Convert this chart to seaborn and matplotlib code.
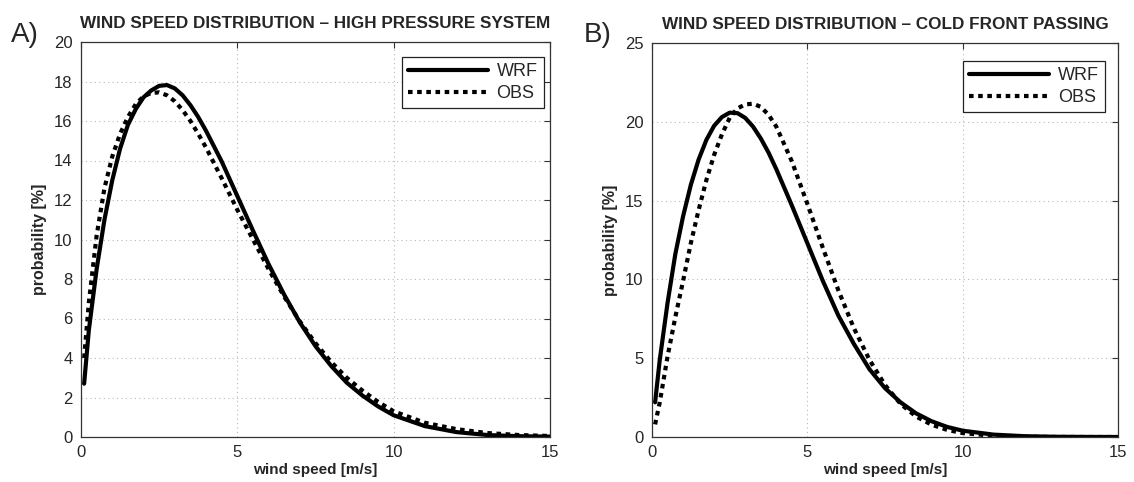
import matplotlib
matplotlib.use("Agg")
import matplotlib.pyplot as plt
from matplotlib.lines import Line2D
import pandas as pd
import seaborn as sns

# Wind speed grid [m/s]
speed = [0.1, 0.25, 0.5, 0.75, 1.0, 1.25, 1.5, 1.75, 2.0, 2.25, 2.5, 2.75,
         3.0, 3.25, 3.5, 3.75, 4.0, 4.5, 5.0, 5.5, 6.0, 6.5, 7.0, 7.5,
         8.0, 8.5, 9.0, 9.5, 10, 11, 12, 13, 14, 15]

# A) high pressure system: probability [%]
wrf_high = [2.7, 5.4, 8.5, 11.0, 13.0, 14.6, 15.8, 16.6, 17.2, 17.55, 17.78, 17.82,
            17.65, 17.3, 16.8, 16.2, 15.5, 13.95, 12.2, 10.45, 8.75, 7.2, 5.8, 4.6,
            3.6, 2.75, 2.1, 1.55, 1.1, 0.55, 0.25, 0.1, 0.04, 0.02]
obs_high = [4.0, 6.8, 10.2, 12.6, 14.2, 15.35, 16.2, 16.85, 17.25, 17.42, 17.45, 17.3,
            17.0, 16.55, 16.0, 15.35, 14.65, 13.1, 11.5, 10.0, 8.5, 7.1, 5.85, 4.75,
            3.8, 3.0, 2.35, 1.78, 1.3, 0.72, 0.4, 0.2, 0.1, 0.05]

# B) cold front passing: probability [%]
wrf_front = [2.2, 4.9, 8.5, 11.6, 14.0, 16.0, 17.6, 18.85, 19.75, 20.3, 20.58, 20.55,
             20.25, 19.7, 18.95, 18.05, 17.0, 14.7, 12.3, 9.9, 7.7, 5.9, 4.3, 3.1,
             2.2, 1.5, 1.0, 0.64, 0.4, 0.15, 0.05, 0.015, 0.005, 0.001]
obs_front = [0.8, 2.2, 5.1, 7.6, 9.9, 12.3, 14.4, 16.3, 17.9, 19.2, 20.25, 20.85,
             21.1, 21.15, 20.95, 20.45, 19.7, 17.5, 14.8, 12.0, 9.3, 6.9, 4.9, 3.3,
             2.1, 1.3, 0.78, 0.45, 0.25, 0.07, 0.015, 0.003, 0.0, 0.0]

series_names = ["WRF", "OBS"]
x_ticks = [0, 5, 10, 15]

sns.set_style("white")
plt.rcParams["font.family"] = ["Liberation Sans", "DejaVu Sans"]

W, H = 1134, 482
fig = plt.figure(figsize=(W / 100, H / 100), dpi=100)
ax_a = fig.add_axes([81 / W, 45 / H, 469 / W, 395 / H])
ax_b = fig.add_axes([652 / W, 45 / H, 466 / W, 394 / H])

LW = 3.0
OBS_DASH = (1.1, 1.1)


def draw_panel(ax, wrf, obs, ymax, ystep, title, tag, tag_x, anchor):
    n = len(speed)
    df = pd.DataFrame({
        "speed": speed * 2,
        "prob": wrf + obs,
        "series": ["WRF"] * n + ["OBS"] * n,
    })
    sns.lineplot(data=df, x="speed", y="prob", style="series",
                 style_order=series_names,
                 dashes={"WRF": "", "OBS": OBS_DASH},
                 color="black", linewidth=LW, estimator=None, sort=False,
                 legend=False, ax=ax)

    ax.set_xlim(0, 15)
    ax.set_ylim(0, ymax)
    ax.set_xticks(x_ticks)
    ax.set_yticks(list(range(0, ymax + 1, ystep)))
    ax.set_axisbelow(True)
    ax.grid(True, linestyle=(0, (1, 3)), color="#b8b8b8", linewidth=0.8)
    for sp in ax.spines.values():
        sp.set_visible(True)
        sp.set_color("#333333")
        sp.set_linewidth(0.9)
    ax.tick_params(direction="in", length=4, width=0.8, top=True, right=True,
                   labelsize=12, color="#333333", pad=6)

    ax.set_xlabel("wind speed [m/s]", fontsize=11, fontweight="bold", labelpad=2)
    ax.set_ylabel("probability [%]", fontsize=11.5, fontweight="bold", labelpad=5)
    ax.set_title(title, fontsize=12.3, fontweight="bold", pad=10)

    handles = [Line2D([], [], color="black", lw=LW),
               Line2D([], [], color="black", lw=LW, dashes=OBS_DASH)]
    leg = ax.legend(handles, series_names, loc="upper right", bbox_to_anchor=anchor,
                    frameon=True, fancybox=False, framealpha=1, edgecolor="#222222",
                    fontsize=13, handlelength=4.4, handletextpad=0.5,
                    borderpad=0.35, labelspacing=0.25, borderaxespad=0)
    leg.get_frame().set_linewidth(0.9)

    fig.text(tag_x / W, 1 - 35 / H, tag, fontsize=20, va="center", ha="left")


draw_panel(ax_a, wrf_high, obs_high, 20, 2,
           "WIND SPEED DISTRIBUTION \u2013 HIGH PRESSURE SYSTEM", "A)", 11,
           (0.987, 0.962))
draw_panel(ax_b, wrf_front, obs_front, 25, 5,
           "WIND SPEED DISTRIBUTION \u2013 COLD FRONT PASSING", "B)", 584,
           (0.972, 0.954))

fig.savefig("out.png", dpi=100)
